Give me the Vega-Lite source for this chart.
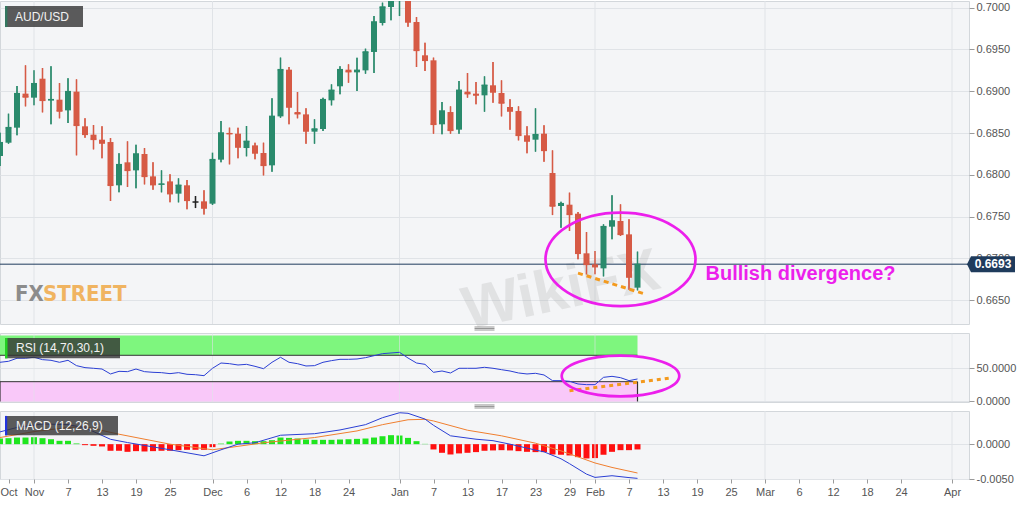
{
"$schema": "https://vega.github.io/schema/vega-lite/v6.json",
"background": "white",
"padding": {"left": -3, "top": 0, "right": 0, "bottom": 0},
"spacing": 9,
"bounds": "flush",
"config": {
  "font": "Liberation Sans",
  "view": {"fill": "#f4f5f7", "stroke": "#d3d7db"},
  "axis": {"labelFont": "Liberation Sans", "labelFontSize": 11, "labelColor": "#555555", "tickColor": "#9a9a9a", "gridColor": "#e0e3e7", "domain": false}
},
"datasets": {
  "months": [{"d":"2019-11-01"},{"d":"2019-12-02"},{"d":"2020-01-01"},{"d":"2020-02-03"},{"d":"2020-03-02"},{"d":"2020-04-01"}],
  "ohlc": [
{"d":"2019-10-28","o":0.68225,"h":0.68504,"l":0.68105,"c":0.68384,"rsi":59.4,"hist":0.00081},
{"d":"2019-10-29","o":0.68384,"h":0.68731,"l":0.68372,"c":0.68564,"rsi":60.9,"hist":0.00086},
{"d":"2019-10-30","o":0.68564,"h":0.69063,"l":0.68472,"c":0.68971,"rsi":65.5,"hist":0.00095},
{"d":"2019-10-31","o":0.68971,"h":0.6931,"l":0.68819,"c":0.68931,"rsi":65.5,"hist":0.00095},
{"d":"2019-11-01","o":0.68923,"h":0.6925,"l":0.68831,"c":0.6909,"rsi":67.0,"hist":0.001},
{"d":"2019-11-04","o":0.6915,"h":0.69278,"l":0.68747,"c":0.68891,"rsi":63.4,"hist":0.00086},
{"d":"2019-11-05","o":0.68891,"h":0.69298,"l":0.68604,"c":0.68899,"rsi":62.4,"hist":0.00071},
{"d":"2019-11-06","o":0.68899,"h":0.69098,"l":0.68676,"c":0.68763,"rsi":59.4,"hist":0.00048},
{"d":"2019-11-07","o":0.68771,"h":0.69154,"l":0.6862,"c":0.68995,"rsi":62.4,"hist":0.00048},
{"d":"2019-11-08","o":0.68995,"h":0.69142,"l":0.68233,"c":0.68592,"rsi":54.3,"hist":0.0001},
{"d":"2019-11-11","o":0.6858,"h":0.68676,"l":0.68444,"c":0.68484,"rsi":51.3,"hist":-0.00014},
{"d":"2019-11-12","o":0.6848,"h":0.68596,"l":0.68304,"c":0.68424,"rsi":50.3,"hist":-0.00024},
{"d":"2019-11-13","o":0.6842,"h":0.6858,"l":0.68197,"c":0.6838,"rsi":49.2,"hist":-0.00033},
{"d":"2019-11-14","o":0.68392,"h":0.6844,"l":0.67686,"c":0.67874,"rsi":41.7,"hist":-0.00095},
{"d":"2019-11-15","o":0.67874,"h":0.68257,"l":0.6779,"c":0.68121,"rsi":45.7,"hist":-0.00095},
{"d":"2019-11-18","o":0.68149,"h":0.684,"l":0.67854,"c":0.68053,"rsi":45.2,"hist":-0.0011},
{"d":"2019-11-19","o":0.68053,"h":0.6836,"l":0.67838,"c":0.68249,"rsi":49.2,"hist":-0.001},
{"d":"2019-11-20","o":0.68249,"h":0.6832,"l":0.67885,"c":0.67981,"rsi":45.2,"hist":-0.00105},
{"d":"2019-11-21","o":0.67981,"h":0.68149,"l":0.67822,"c":0.67882,"rsi":44.2,"hist":-0.001},
{"d":"2019-11-22","o":0.67882,"h":0.68053,"l":0.6779,"c":0.67889,"rsi":43.7,"hist":-0.00095},
{"d":"2019-11-25","o":0.67921,"h":0.68005,"l":0.6767,"c":0.67774,"rsi":42.2,"hist":-0.00095},
{"d":"2019-11-26","o":0.67774,"h":0.67957,"l":0.6767,"c":0.67874,"rsi":43.7,"hist":-0.00086},
{"d":"2019-11-27","o":0.67874,"h":0.67937,"l":0.67586,"c":0.67694,"rsi":41.2,"hist":-0.00081},
{"d":"2019-11-28","o":0.67674,"h":0.67746,"l":0.67602,"c":0.67674,"rsi":40.6,"hist":-0.00081},
{"d":"2019-11-29","o":0.67682,"h":0.67814,"l":0.67526,"c":0.67602,"rsi":39.1,"hist":-0.00081},
{"d":"2019-12-02","o":0.67654,"h":0.68265,"l":0.67638,"c":0.68181,"rsi":50.3,"hist":-0.00043},
{"d":"2019-12-03","o":0.68181,"h":0.68644,"l":0.68149,"c":0.685,"rsi":58.3,"hist":0.00008},
{"d":"2019-12-04","o":0.685,"h":0.68564,"l":0.68125,"c":0.68492,"rsi":57.3,"hist":0.00038},
{"d":"2019-12-05","o":0.68492,"h":0.68564,"l":0.68197,"c":0.68332,"rsi":55.3,"hist":0.00048},
{"d":"2019-12-06","o":0.6832,"h":0.68584,"l":0.68221,"c":0.684,"rsi":56.3,"hist":0.00048},
{"d":"2019-12-09","o":0.68352,"h":0.68384,"l":0.68185,"c":0.68261,"rsi":53.3,"hist":0.00043},
{"d":"2019-12-10","o":0.68261,"h":0.68384,"l":0.67993,"c":0.68113,"rsi":49.7,"hist":0.00043},
{"d":"2019-12-11","o":0.68113,"h":0.68915,"l":0.68037,"c":0.68699,"rsi":59.4,"hist":0.00057},
{"d":"2019-12-12","o":0.68699,"h":0.69402,"l":0.68683,"c":0.69258,"rsi":67.0,"hist":0.00095},
{"d":"2019-12-13","o":0.69258,"h":0.6929,"l":0.68604,"c":0.68811,"rsi":59.4,"hist":0.0009},
{"d":"2019-12-16","o":0.68751,"h":0.68991,"l":0.68676,"c":0.68731,"rsi":57.3,"hist":0.00081},
{"d":"2019-12-17","o":0.68723,"h":0.68795,"l":0.68372,"c":0.68524,"rsi":53.8,"hist":0.00067},
{"d":"2019-12-18","o":0.68516,"h":0.68664,"l":0.68372,"c":0.68548,"rsi":54.3,"hist":0.00062},
{"d":"2019-12-19","o":0.68548,"h":0.68923,"l":0.68524,"c":0.68899,"rsi":59.4,"hist":0.00062},
{"d":"2019-12-20","o":0.68891,"h":0.69082,"l":0.68831,"c":0.69011,"rsi":61.9,"hist":0.00062},
{"d":"2019-12-23","o":0.69059,"h":0.69298,"l":0.68963,"c":0.69258,"rsi":63.9,"hist":0.00067},
{"d":"2019-12-24","o":0.69258,"h":0.69322,"l":0.69102,"c":0.69234,"rsi":63.9,"hist":0.00071},
{"d":"2019-12-25","o":0.69226,"h":0.69402,"l":0.69003,"c":0.6925,"rsi":64.4,"hist":0.00076},
{"d":"2019-12-26","o":0.6925,"h":0.69509,"l":0.6921,"c":0.6947,"rsi":66.4,"hist":0.00081},
{"d":"2019-12-27","o":0.6947,"h":0.699,"l":0.69218,"c":0.69829,"rsi":69.4,"hist":0.00095},
{"d":"2019-12-30","o":0.69817,"h":0.7006,"l":0.69789,"c":0.70008,"rsi":72.5,"hist":0.00114},
{"d":"2019-12-31","o":0.70008,"h":0.7032,"l":0.6985,"c":0.702,"rsi":73.5,"hist":0.00129},
{"d":"2020-01-01","o":0.7016,"h":0.703,"l":0.699,"c":0.702,"rsi":74.5,"hist":0.00124},
{"d":"2020-01-02","o":0.702,"h":0.7025,"l":0.69773,"c":0.69829,"rsi":65.9,"hist":0.0009},
{"d":"2020-01-03","o":0.69829,"h":0.69888,"l":0.6929,"c":0.69489,"rsi":58.3,"hist":0.00043},
{"d":"2020-01-06","o":0.6943,"h":0.69581,"l":0.69242,"c":0.6937,"rsi":56.3,"hist":0.00004},
{"d":"2020-01-07","o":0.6937,"h":0.69402,"l":0.68492,"c":0.68604,"rsi":44.2,"hist":-0.00076},
{"d":"2020-01-08","o":0.68604,"h":0.68871,"l":0.68484,"c":0.68763,"rsi":46.2,"hist":-0.00124},
{"d":"2020-01-09","o":0.68751,"h":0.68819,"l":0.68492,"c":0.68532,"rsi":43.2,"hist":-0.00148},
{"d":"2020-01-10","o":0.6854,"h":0.69122,"l":0.68492,"c":0.69011,"rsi":50.3,"hist":-0.00133},
{"d":"2020-01-13","o":0.68995,"h":0.69218,"l":0.68923,"c":0.68971,"rsi":50.3,"hist":-0.00124},
{"d":"2020-01-14","o":0.68971,"h":0.6911,"l":0.68843,"c":0.68955,"rsi":50.3,"hist":-0.00114},
{"d":"2020-01-15","o":0.68951,"h":0.69178,"l":0.68755,"c":0.69071,"rsi":51.8,"hist":-0.00095},
{"d":"2020-01-16","o":0.69071,"h":0.6935,"l":0.68863,"c":0.68991,"rsi":50.3,"hist":-0.0009},
{"d":"2020-01-17","o":0.68979,"h":0.6913,"l":0.68699,"c":0.68859,"rsi":48.2,"hist":-0.00086},
{"d":"2020-01-20","o":0.68811,"h":0.68903,"l":0.6854,"c":0.68763,"rsi":46.2,"hist":-0.0009},
{"d":"2020-01-21","o":0.68763,"h":0.68819,"l":0.68412,"c":0.68472,"rsi":43.2,"hist":-0.001},
{"d":"2020-01-22","o":0.68472,"h":0.6858,"l":0.68257,"c":0.68404,"rsi":41.7,"hist":-0.0011},
{"d":"2020-01-23","o":0.6842,"h":0.68795,"l":0.68277,"c":0.6848,"rsi":42.7,"hist":-0.00114},
{"d":"2020-01-24","o":0.68492,"h":0.68592,"l":0.68157,"c":0.68292,"rsi":40.2,"hist":-0.00114},
{"d":"2020-01-27","o":0.68021,"h":0.68292,"l":0.67518,"c":0.67626,"rsi":31.6,"hist":-0.00148},
{"d":"2020-01-28","o":0.67626,"h":0.67678,"l":0.67367,"c":0.67654,"rsi":31.6,"hist":-0.00152},
{"d":"2020-01-29","o":0.67642,"h":0.67786,"l":0.67327,"c":0.67526,"rsi":30.6,"hist":-0.00162},
{"d":"2020-01-30","o":0.67534,"h":0.67554,"l":0.66988,"c":0.6706,"rsi":26.5,"hist":-0.00186},
{"d":"2020-01-31","o":0.6706,"h":0.67315,"l":0.66808,"c":0.66928,"rsi":25.5,"hist":-0.00205},
{"d":"2020-02-03","o":0.66928,"h":0.67088,"l":0.66808,"c":0.669,"rsi":25.5,"hist":-0.002},
{"d":"2020-02-04","o":0.6688,"h":0.67407,"l":0.66784,"c":0.67379,"rsi":36.6,"hist":-0.00152},
{"d":"2020-02-05","o":0.67379,"h":0.67754,"l":0.67227,"c":0.67447,"rsi":38.1,"hist":-0.0011},
{"d":"2020-02-06","o":0.67447,"h":0.67646,"l":0.67267,"c":0.67287,"rsi":36.1,"hist":-0.00086},
{"d":"2020-02-07","o":0.67287,"h":0.67467,"l":0.66625,"c":0.66776,"rsi":31.6,"hist":-0.00086},
{"d":"2020-02-10","o":0.66649,"h":0.6708,"l":0.66617,"c":0.66928,"rsi":34.1,"hist":-0.00076}
  ],
  "macd": [
{"d":"2019-10-28","v":0.00176},{"d":"2019-10-30","v":0.0024},{"d":"2019-11-04","v":0.0029},{"d":"2019-11-07","v":0.0028},{"d":"2019-11-11","v":0.00236},{"d":"2019-11-14","v":0.0007},{"d":"2019-11-18","v":0.00023},{"d":"2019-11-25","v":-0.00081},{"d":"2019-11-29","v":-0.00167},{"d":"2019-12-03","v":-0.00081},{"d":"2019-12-05","v":0.0},{"d":"2019-12-09","v":0.0002},{"d":"2019-12-12","v":0.00128},{"d":"2019-12-18","v":0.0015},{"d":"2019-12-23","v":0.00204},{"d":"2019-12-26","v":0.0028},{"d":"2019-12-30","v":0.0038},{"d":"2020-01-01","v":0.00451},{"d":"2020-01-02","v":0.00443},{"d":"2020-01-06","v":0.0036},{"d":"2020-01-07","v":0.00271},{"d":"2020-01-09","v":0.0012},{"d":"2020-01-14","v":0.00071},{"d":"2020-01-16","v":0.0005},{"d":"2020-01-20","v":0.0},{"d":"2020-01-23","v":-0.00085},{"d":"2020-01-24","v":-0.0011},{"d":"2020-01-28","v":-0.0021},{"d":"2020-01-29","v":-0.0028},{"d":"2020-01-31","v":-0.0043},{"d":"2020-02-03","v":-0.00477},{"d":"2020-02-05","v":-0.00453},{"d":"2020-02-07","v":-0.0048},{"d":"2020-02-10","v":-0.00491}
  ],
  "signal": [
{"d":"2019-10-28","v":0.00095},{"d":"2019-11-01","v":0.0018},{"d":"2019-11-07","v":0.0024},{"d":"2019-11-11","v":0.0025},{"d":"2019-11-15","v":0.00143},{"d":"2019-11-25","v":0.0},{"d":"2019-12-02","v":-0.0008},{"d":"2019-12-04","v":-0.00048},{"d":"2019-12-10","v":0.0002},{"d":"2019-12-18","v":0.00095},{"d":"2019-12-25","v":0.0019},{"d":"2019-12-30","v":0.0028},{"d":"2020-01-02","v":0.0035},{"d":"2020-01-06","v":0.00357},{"d":"2020-01-07","v":0.00333},{"d":"2020-01-13","v":0.002},{"d":"2020-01-17","v":0.0012},{"d":"2020-01-23","v":0.00014},{"d":"2020-01-28","v":-0.00096},{"d":"2020-02-03","v":-0.0027},{"d":"2020-02-05","v":-0.00334},{"d":"2020-02-10","v":-0.00414}
  ]
},
"vconcat": [
{
  "width": 969, "height": 323,
  "layer": [
    {"data": {"name": "ohlc"}, "mark": {"type": "rule", "strokeWidth": 1.3, "clip": true},
     "encoding": {
       "x": {"field": "d", "type": "ordinal", "axis": null, "scale": {"type": "point", "padding": 0, "domain": ["2019-10-28","2019-10-29","2019-10-30","2019-10-31","2019-11-01","2019-11-04","2019-11-05","2019-11-06","2019-11-07","2019-11-08","2019-11-11","2019-11-12","2019-11-13","2019-11-14","2019-11-15","2019-11-18","2019-11-19","2019-11-20","2019-11-21","2019-11-22","2019-11-25","2019-11-26","2019-11-27","2019-11-28","2019-11-29","2019-12-02","2019-12-03","2019-12-04","2019-12-05","2019-12-06","2019-12-09","2019-12-10","2019-12-11","2019-12-12","2019-12-13","2019-12-16","2019-12-17","2019-12-18","2019-12-19","2019-12-20","2019-12-23","2019-12-24","2019-12-25","2019-12-26","2019-12-27","2019-12-30","2019-12-31","2020-01-01","2020-01-02","2020-01-03","2020-01-06","2020-01-07","2020-01-08","2020-01-09","2020-01-10","2020-01-13","2020-01-14","2020-01-15","2020-01-16","2020-01-17","2020-01-20","2020-01-21","2020-01-22","2020-01-23","2020-01-24","2020-01-27","2020-01-28","2020-01-29","2020-01-30","2020-01-31","2020-02-03","2020-02-04","2020-02-05","2020-02-06","2020-02-07","2020-02-10","2020-02-11","2020-02-12","2020-02-13","2020-02-14","2020-02-17","2020-02-18","2020-02-19","2020-02-20","2020-02-21","2020-02-24","2020-02-25","2020-02-26","2020-02-27","2020-02-28","2020-03-02","2020-03-03","2020-03-04","2020-03-05","2020-03-06","2020-03-09","2020-03-10","2020-03-11","2020-03-12","2020-03-13","2020-03-16","2020-03-17","2020-03-18","2020-03-19","2020-03-20","2020-03-23","2020-03-24","2020-03-25","2020-03-26","2020-03-27","2020-03-30","2020-03-31","2020-04-01","2020-04-02","2020-04-03"]}},
       "y": {"field": "l", "type": "quantitative", "scale": {"domain": [0.66214, 0.7008], "zero": false, "nice": false},
             "axis": {"orient": "right", "values": [0.665,0.67,0.675,0.68,0.685,0.69,0.695,0.7], "format": ".4f", "grid": true, "title": null, "tickSize": 5, "labelPadding": 2}},
       "y2": {"field": "h"},
       "color": {"condition": [{"test": "datum.o < datum.c", "value": "#2a8a6c"}, {"test": "datum.o == datum.c", "value": "#222222"}], "value": "#d65a45"}}},
    {"data": {"name": "months"}, "mark": {"type": "rule", "color": "#e0e3e7", "strokeWidth": 1},
     "encoding": {"x": {"field": "d", "type": "ordinal", "axis": null}}},
    {"data": {"values": [{"d":"2020-01-28","v":0.66609,"t":"WikiFX"}]}, "mark": {"type": "text", "fontSize": 60, "fontWeight": "bold", "angle": -12, "align": "center", "baseline": "middle", "color": "#a0a0a0", "opacity": 0.22},
     "encoding": {"x": {"field": "d", "type": "ordinal", "axis": null}, "y": {"field": "v", "type": "quantitative", "scale": {"domain": [0.66214, 0.7008], "zero": false, "nice": false}}, "text": {"field": "t"}}},
    {"data": {"values": [{"v": 0.6693}]}, "mark": {"type": "rule", "color": "#1f3b5c", "strokeWidth": 1},
     "encoding": {"y": {"field": "v", "type": "quantitative", "scale": {"domain": [0.66214, 0.7008], "zero": false, "nice": false}}}},
    {"data": {"name": "ohlc"}, "mark": {"type": "rule", "strokeWidth": 1.3, "clip": true},
     "encoding": {
       "x": {"field": "d", "type": "ordinal", "axis": null},
       "y": {"field": "l", "type": "quantitative", "scale": {"domain": [0.66214, 0.7008], "zero": false, "nice": false}},
       "y2": {"field": "h"},
       "color": {"condition": [{"test": "datum.o < datum.c", "value": "#2a8a6c"}, {"test": "datum.o == datum.c", "value": "#222222"}], "value": "#d65a45"}}},
    {"data": {"name": "ohlc"}, "mark": {"type": "bar", "size": 6, "clip": true},
     "encoding": {
       "x": {"field": "d", "type": "ordinal", "axis": null},
       "y": {"field": "o", "type": "quantitative", "scale": {"domain": [0.66214, 0.7008], "zero": false, "nice": false}},
       "y2": {"field": "c"},
       "color": {"condition": [{"test": "datum.o < datum.c", "value": "#2a8a6c"}, {"test": "datum.o == datum.c", "value": "#222222"}], "value": "#d65a45"}}},
    {"data": {"name": "ohlc"}, "mark": {"type": "tick", "size": 6, "thickness": 1.5, "opacity": 1, "clip": true},
     "encoding": {
       "x": {"field": "d", "type": "ordinal", "axis": null},
       "y": {"field": "c", "type": "quantitative", "scale": {"domain": [0.66214, 0.7008], "zero": false, "nice": false}},
       "color": {"condition": [{"test": "datum.o < datum.c", "value": "#2a8a6c"}, {"test": "datum.o == datum.c", "value": "#222222"}], "value": "#d65a45"}}},
    {"data": {"values": [{"d":"2020-01-30","v":0.66823},{"d":"2020-02-11","v":0.66569}]}, "mark": {"type": "line", "color": "#f39a1e", "strokeWidth": 3, "strokeDash": [5, 4]},
     "encoding": {"x": {"field": "d", "type": "ordinal", "axis": null}, "y": {"field": "v", "type": "quantitative", "scale": {"domain": [0.66214, 0.7008], "zero": false, "nice": false}}}},
    {"data": {"values": [{"d":"2020-02-06","v":0.66988}]}, "mark": {"type": "point", "shape": "M 1 0 C 1 0.344 0.5523 0.623 0 0.623 C -0.5523 0.623 -1 0.344 -1 0 C -1 -0.344 -0.5523 -0.623 0 -0.623 C 0.5523 -0.623 1 -0.344 1 0 Z", "size": 22500, "filled": false, "color": "#ec1fec", "strokeWidth": 2.7, "opacity": 1},
     "encoding": {"x": {"field": "d", "type": "ordinal", "axis": null}, "y": {"field": "v", "type": "quantitative", "scale": {"domain": [0.66214, 0.7008], "zero": false, "nice": false}}}},
    {"data": {"values": [{"d":"2020-02-20","v":0.66737,"t":"Bullish divergence?"}]}, "mark": {"type": "text", "fontSize": 20, "fontWeight": "bold", "align": "left", "baseline": "alphabetic", "color": "#ec1fec"},
     "encoding": {"x": {"field": "d", "type": "ordinal", "axis": null}, "y": {"field": "v", "type": "quantitative", "scale": {"domain": [0.66214, 0.7008], "zero": false, "nice": false}}, "text": {"field": "t"}}},
    {"data": {"values": [{"d":"2019-10-28","v":0.66489,"t":"FX"}]}, "mark": {"type": "text", "font": "Liberation Sans Narrow, DejaVu Sans Condensed, Liberation Sans", "fontSize": 22, "fontWeight": "bold", "align": "left", "baseline": "alphabetic", "dx": 15, "color": "#8c8c8c"},
     "encoding": {"x": {"field": "d", "type": "ordinal", "axis": null}, "y": {"field": "v", "type": "quantitative", "scale": {"domain": [0.66214, 0.7008], "zero": false, "nice": false}}, "text": {"field": "t"}}},
    {"data": {"values": [{"d":"2019-10-28","v":0.66489,"t":"STREET"}]}, "mark": {"type": "text", "font": "Liberation Sans Narrow, DejaVu Sans Condensed, Liberation Sans", "fontSize": 22, "fontWeight": "bold", "align": "left", "baseline": "alphabetic", "dx": 43, "color": "#f0b461"},
     "encoding": {"x": {"field": "d", "type": "ordinal", "axis": null}, "y": {"field": "v", "type": "quantitative", "scale": {"domain": [0.66214, 0.7008], "zero": false, "nice": false}}, "text": {"field": "t"}}},
    {"data": {"values": [{"d":"2019-10-28","v":0.69894}]}, "mark": {"type": "point", "shape": "M 0.05 -0.105 L 0.83 -0.105 L 0.83 0.105 L 0.05 0.105 Z", "size": 40000, "filled": true, "color": "#333333", "opacity": 0.8},
     "encoding": {"x": {"field": "d", "type": "ordinal", "axis": null}, "y": {"field": "v", "type": "quantitative", "scale": {"domain": [0.66214, 0.7008], "zero": false, "nice": false}}}},
    {"data": {"values": [{"d":"2019-10-28","v":0.69894}]}, "mark": {"type": "point", "shape": "M 0.05 -0.105 L 0.074 -0.105 L 0.074 0.105 L 0.05 0.105 Z", "size": 40000, "filled": true, "color": "#2f7a5f", "opacity": 0.9},
     "encoding": {"x": {"field": "d", "type": "ordinal", "axis": null}, "y": {"field": "v", "type": "quantitative", "scale": {"domain": [0.66214, 0.7008], "zero": false, "nice": false}}}},
    {"data": {"values": [{"d":"2019-10-28","v":0.69894,"t":"AUD/USD"}]}, "mark": {"type": "text", "fontSize": 12, "align": "left", "baseline": "middle", "dx": 15, "color": "#f2f2f2"},
     "encoding": {"x": {"field": "d", "type": "ordinal", "axis": null}, "y": {"field": "v", "type": "quantitative", "scale": {"domain": [0.66214, 0.7008], "zero": false, "nice": false}}, "text": {"field": "t"}}},
    {"data": {"values": [{"d":"2020-04-03","v":0.6693}]}, "mark": {"type": "point", "shape": "M -0.04 0 L 0.04 -0.16 L 0.92 -0.16 L 0.92 0.16 L 0.04 0.16 Z", "size": 10000, "filled": true, "color": "#1f3b5c", "opacity": 1},
     "encoding": {"x": {"field": "d", "type": "ordinal", "axis": null}, "y": {"field": "v", "type": "quantitative", "scale": {"domain": [0.66214, 0.7008], "zero": false, "nice": false}}}},
    {"data": {"values": [{"d":"2020-04-03","v":0.6693,"t":"0.6693"}]}, "mark": {"type": "text", "fontSize": 12, "fontWeight": "bold", "align": "center", "baseline": "middle", "dx": 24, "color": "#ffffff"},
     "encoding": {"x": {"field": "d", "type": "ordinal", "axis": null}, "y": {"field": "v", "type": "quantitative", "scale": {"domain": [0.66214, 0.7008], "zero": false, "nice": false}}, "text": {"field": "t"}}}
  ]
},
{
  "width": 969, "height": 69,
  "layer": [
    {"data": {"values": [{"d1":"2019-10-28","d2":"2020-02-10","lo":70,"hi":100,"b":"ob"},{"d1":"2019-10-28","d2":"2020-02-10","lo":0,"hi":30,"b":"os"}]}, "mark": {"type": "rect"},
     "encoding": {"x": {"field": "d1", "type": "ordinal", "axis": null, "scale": {"type": "point", "padding": 0, "domain": ["2019-10-28","2019-10-29","2019-10-30","2019-10-31","2019-11-01","2019-11-04","2019-11-05","2019-11-06","2019-11-07","2019-11-08","2019-11-11","2019-11-12","2019-11-13","2019-11-14","2019-11-15","2019-11-18","2019-11-19","2019-11-20","2019-11-21","2019-11-22","2019-11-25","2019-11-26","2019-11-27","2019-11-28","2019-11-29","2019-12-02","2019-12-03","2019-12-04","2019-12-05","2019-12-06","2019-12-09","2019-12-10","2019-12-11","2019-12-12","2019-12-13","2019-12-16","2019-12-17","2019-12-18","2019-12-19","2019-12-20","2019-12-23","2019-12-24","2019-12-25","2019-12-26","2019-12-27","2019-12-30","2019-12-31","2020-01-01","2020-01-02","2020-01-03","2020-01-06","2020-01-07","2020-01-08","2020-01-09","2020-01-10","2020-01-13","2020-01-14","2020-01-15","2020-01-16","2020-01-17","2020-01-20","2020-01-21","2020-01-22","2020-01-23","2020-01-24","2020-01-27","2020-01-28","2020-01-29","2020-01-30","2020-01-31","2020-02-03","2020-02-04","2020-02-05","2020-02-06","2020-02-07","2020-02-10","2020-02-11","2020-02-12","2020-02-13","2020-02-14","2020-02-17","2020-02-18","2020-02-19","2020-02-20","2020-02-21","2020-02-24","2020-02-25","2020-02-26","2020-02-27","2020-02-28","2020-03-02","2020-03-03","2020-03-04","2020-03-05","2020-03-06","2020-03-09","2020-03-10","2020-03-11","2020-03-12","2020-03-13","2020-03-16","2020-03-17","2020-03-18","2020-03-19","2020-03-20","2020-03-23","2020-03-24","2020-03-25","2020-03-26","2020-03-27","2020-03-30","2020-03-31","2020-04-01","2020-04-02","2020-04-03"]}}, "x2": {"field": "d2"},
       "y": {"field": "lo", "type": "quantitative", "scale": {"domain": [-0.8, 103.8], "zero": false, "nice": false},
             "axis": {"orient": "right", "values": [0, 50], "format": ".4f", "grid": true, "title": null, "tickSize": 5, "labelPadding": 2}},
       "y2": {"field": "hi"},
       "color": {"field": "b", "type": "nominal", "scale": {"domain": ["ob","os"], "range": ["#7ef67e", "#f9c8f9"]}, "legend": null}}},
    {"data": {"name": "months"}, "mark": {"type": "rule", "color": "#e0e3e7", "strokeWidth": 1, "opacity": 0.6},
     "encoding": {"x": {"field": "d", "type": "ordinal", "axis": null}}},
    {"data": {"values": [{"d1":"2019-10-28","d2":"2020-02-10","v":70},{"d1":"2019-10-28","d2":"2020-02-10","v":30}]}, "mark": {"type": "rule", "color": "#333333", "strokeWidth": 1},
     "encoding": {"x": {"field": "d1", "type": "ordinal", "axis": null}, "x2": {"field": "d2"}, "y": {"field": "v", "type": "quantitative", "scale": {"domain": [-0.8, 103.8], "zero": false, "nice": false}}}},
    {"data": {"values": [{"d":"2020-02-10","lo":0,"hi":30},{"d":"2019-10-28","lo":0,"hi":30}]}, "mark": {"type": "rule", "color": "#333333", "strokeWidth": 1.2},
     "encoding": {"x": {"field": "d", "type": "ordinal", "axis": null}, "y": {"field": "lo", "type": "quantitative", "scale": {"domain": [-0.8, 103.8], "zero": false, "nice": false}}, "y2": {"field": "hi"}}},
    {"data": {"name": "ohlc"}, "mark": {"type": "line", "color": "#2b3fd4", "strokeWidth": 1},
     "encoding": {"x": {"field": "d", "type": "ordinal", "axis": null}, "y": {"field": "rsi", "type": "quantitative", "scale": {"domain": [-0.8, 103.8], "zero": false, "nice": false}}}},
    {"data": {"values": [{"d":"2020-01-29","v":16.1},{"d":"2020-02-14","v":35.6}]}, "mark": {"type": "line", "color": "#f39a1e", "strokeWidth": 3, "strokeDash": [4, 4]},
     "encoding": {"x": {"field": "d", "type": "ordinal", "axis": null}, "y": {"field": "v", "type": "quantitative", "scale": {"domain": [-0.8, 103.8], "zero": false, "nice": false}}}},
    {"data": {"values": [{"d":"2020-02-06","v":38.6}]}, "mark": {"type": "point", "shape": "M 1 0 C 1 0.1905 0.5523 0.345 0 0.345 C -0.5523 0.345 -1 0.1905 -1 0 C -1 -0.1905 -0.5523 -0.345 0 -0.345 C 0.5523 -0.345 1 -0.1905 1 0 Z", "size": 13830, "filled": false, "color": "#ec1fec", "strokeWidth": 2.7, "opacity": 1},
     "encoding": {"x": {"field": "d", "type": "ordinal", "axis": null}, "y": {"field": "v", "type": "quantitative", "scale": {"domain": [-0.8, 103.8], "zero": false, "nice": false}}}},
    {"data": {"values": [{"d":"2020-01-15","v":110.6}]}, "mark": {"type": "point", "shape": "M -1 -0.15 L 1 -0.15 M -1 0 L 1 0 M -1 0.15 L 1 0.15", "size": 400, "filled": false, "color": "#8a8a8a", "strokeWidth": 0.9, "opacity": 1},
     "encoding": {"x": {"field": "d", "type": "ordinal", "axis": null}, "y": {"field": "v", "type": "quantitative", "scale": {"domain": [-0.8, 103.8], "zero": false, "nice": false}}}},
    {"data": {"values": [{"d":"2019-10-28","v":80.8}]}, "mark": {"type": "point", "shape": "M 0.05 -0.102 L 1.2 -0.102 L 1.2 0.102 L 0.05 0.102 Z", "size": 40000, "filled": true, "color": "#333333", "opacity": 0.8},
     "encoding": {"x": {"field": "d", "type": "ordinal", "axis": null}, "y": {"field": "v", "type": "quantitative", "scale": {"domain": [-0.8, 103.8], "zero": false, "nice": false}}}},
    {"data": {"values": [{"d":"2019-10-28","v":80.8}]}, "mark": {"type": "point", "shape": "M 0.05 -0.102 L 0.075 -0.102 L 0.075 0.102 L 0.05 0.102 Z", "size": 40000, "filled": true, "color": "#22d022", "opacity": 1},
     "encoding": {"x": {"field": "d", "type": "ordinal", "axis": null}, "y": {"field": "v", "type": "quantitative", "scale": {"domain": [-0.8, 103.8], "zero": false, "nice": false}}}},
    {"data": {"values": [{"d":"2019-10-28","v":80.8,"t":"RSI (14,70,30,1)"}]}, "mark": {"type": "text", "fontSize": 12, "align": "left", "baseline": "middle", "dx": 16, "color": "#f2f2f2"},
     "encoding": {"x": {"field": "d", "type": "ordinal", "axis": null}, "y": {"field": "v", "type": "quantitative", "scale": {"domain": [-0.8, 103.8], "zero": false, "nice": false}}, "text": {"field": "t"}}}
  ]
},
{
  "width": 969, "height": 68,
  "layer": [
    {"data": {"name": "ohlc"}, "mark": {"type": "bar", "size": 6, "clip": true},
     "encoding": {
       "x": {"field": "d", "type": "ordinal",
             "scale": {"type": "point", "padding": 0, "domain": ["2019-10-28","2019-10-29","2019-10-30","2019-10-31","2019-11-01","2019-11-04","2019-11-05","2019-11-06","2019-11-07","2019-11-08","2019-11-11","2019-11-12","2019-11-13","2019-11-14","2019-11-15","2019-11-18","2019-11-19","2019-11-20","2019-11-21","2019-11-22","2019-11-25","2019-11-26","2019-11-27","2019-11-28","2019-11-29","2019-12-02","2019-12-03","2019-12-04","2019-12-05","2019-12-06","2019-12-09","2019-12-10","2019-12-11","2019-12-12","2019-12-13","2019-12-16","2019-12-17","2019-12-18","2019-12-19","2019-12-20","2019-12-23","2019-12-24","2019-12-25","2019-12-26","2019-12-27","2019-12-30","2019-12-31","2020-01-01","2020-01-02","2020-01-03","2020-01-06","2020-01-07","2020-01-08","2020-01-09","2020-01-10","2020-01-13","2020-01-14","2020-01-15","2020-01-16","2020-01-17","2020-01-20","2020-01-21","2020-01-22","2020-01-23","2020-01-24","2020-01-27","2020-01-28","2020-01-29","2020-01-30","2020-01-31","2020-02-03","2020-02-04","2020-02-05","2020-02-06","2020-02-07","2020-02-10","2020-02-11","2020-02-12","2020-02-13","2020-02-14","2020-02-17","2020-02-18","2020-02-19","2020-02-20","2020-02-21","2020-02-24","2020-02-25","2020-02-26","2020-02-27","2020-02-28","2020-03-02","2020-03-03","2020-03-04","2020-03-05","2020-03-06","2020-03-09","2020-03-10","2020-03-11","2020-03-12","2020-03-13","2020-03-16","2020-03-17","2020-03-18","2020-03-19","2020-03-20","2020-03-23","2020-03-24","2020-03-25","2020-03-26","2020-03-27","2020-03-30","2020-03-31","2020-04-01","2020-04-02","2020-04-03"]},
             "axis": {"values": ["2019-10-29","2019-11-01","2019-11-07","2019-11-13","2019-11-19","2019-11-25","2019-12-02","2019-12-06","2019-12-12","2019-12-18","2019-12-24","2020-01-01","2020-01-07","2020-01-13","2020-01-17","2020-01-23","2020-01-29","2020-02-03","2020-02-07","2020-02-13","2020-02-19","2020-02-25","2020-03-02","2020-03-06","2020-03-12","2020-03-18","2020-03-24","2020-04-01"],
                      "labelExpr": "indexof(['2019-10-29','2019-11-01','2019-12-02','2020-01-01','2020-02-03','2020-03-02','2020-04-01'], datum.value) >= 0 ? ['Oct','Nov','Dec','Jan','Feb','Mar','Apr'][indexof(['2019-10-29','2019-11-01','2019-12-02','2020-01-01','2020-02-03','2020-03-02','2020-04-01'], datum.value)] : '' + toNumber(slice(datum.value, 8))",
                      "labelAngle": 0, "grid": false, "domain": false, "ticks": true, "tickSize": 4, "labelPadding": 3, "title": null, "labelOverlap": false}},
       "y": {"field": "hist", "type": "quantitative", "scale": {"domain": [-0.005, 0.00476], "zero": false, "nice": false},
             "axis": {"orient": "right", "values": [-0.005, 0], "labelExpr": "datum.value < 0 ? '-' + format(-datum.value, '.4f') : format(datum.value, '.4f')", "grid": true, "title": null, "tickSize": 5, "labelPadding": 2}},
       "y2": {"datum": 0},
       "color": {"condition": {"test": "datum.hist >= 0", "value": "#1fe51f"}, "value": "#ff1010"}}},
    {"data": {"name": "months"}, "mark": {"type": "rule", "color": "#e0e3e7", "strokeWidth": 1},
     "encoding": {"x": {"field": "d", "type": "ordinal"}}},
    {"data": {"name": "signal"}, "mark": {"type": "line", "color": "#f07f2f", "strokeWidth": 1},
     "encoding": {"x": {"field": "d", "type": "ordinal"}, "y": {"field": "v", "type": "quantitative", "scale": {"domain": [-0.005, 0.00476], "zero": false, "nice": false}}}},
    {"data": {"name": "macd"}, "mark": {"type": "line", "color": "#2b3fd4", "strokeWidth": 1},
     "encoding": {"x": {"field": "d", "type": "ordinal"}, "y": {"field": "v", "type": "quantitative", "scale": {"domain": [-0.005, 0.00476], "zero": false, "nice": false}}}},
    {"data": {"values": [{"d":"2020-01-15","v":0.00541}]}, "mark": {"type": "point", "shape": "M -1 -0.15 L 1 -0.15 M -1 0 L 1 0 M -1 0.15 L 1 0.15", "size": 400, "filled": false, "color": "#8a8a8a", "strokeWidth": 0.9, "opacity": 1},
     "encoding": {"x": {"field": "d", "type": "ordinal"}, "y": {"field": "v", "type": "quantitative", "scale": {"domain": [-0.005, 0.00476], "zero": false, "nice": false}}}},
    {"data": {"values": [{"d":"2019-10-28","v":0.00266}]}, "mark": {"type": "point", "shape": "M 0.05 -0.097 L 1.18 -0.097 L 1.18 0.097 L 0.05 0.097 Z", "size": 40000, "filled": true, "color": "#333333", "opacity": 0.8},
     "encoding": {"x": {"field": "d", "type": "ordinal"}, "y": {"field": "v", "type": "quantitative", "scale": {"domain": [-0.005, 0.00476], "zero": false, "nice": false}}}},
    {"data": {"values": [{"d":"2019-10-28","v":0.00266}]}, "mark": {"type": "point", "shape": "M 0.05 -0.097 L 0.072 -0.097 L 0.072 0.097 L 0.05 0.097 Z", "size": 40000, "filled": true, "color": "#2233dd", "opacity": 1},
     "encoding": {"x": {"field": "d", "type": "ordinal"}, "y": {"field": "v", "type": "quantitative", "scale": {"domain": [-0.005, 0.00476], "zero": false, "nice": false}}}},
    {"data": {"values": [{"d":"2019-10-28","v":0.00266,"t":"MACD (12,26,9)"}]}, "mark": {"type": "text", "fontSize": 12, "align": "left", "baseline": "middle", "dx": 16, "color": "#f2f2f2"},
     "encoding": {"x": {"field": "d", "type": "ordinal"}, "y": {"field": "v", "type": "quantitative", "scale": {"domain": [-0.005, 0.00476], "zero": false, "nice": false}}, "text": {"field": "t"}}}
  ]
}
]
}
